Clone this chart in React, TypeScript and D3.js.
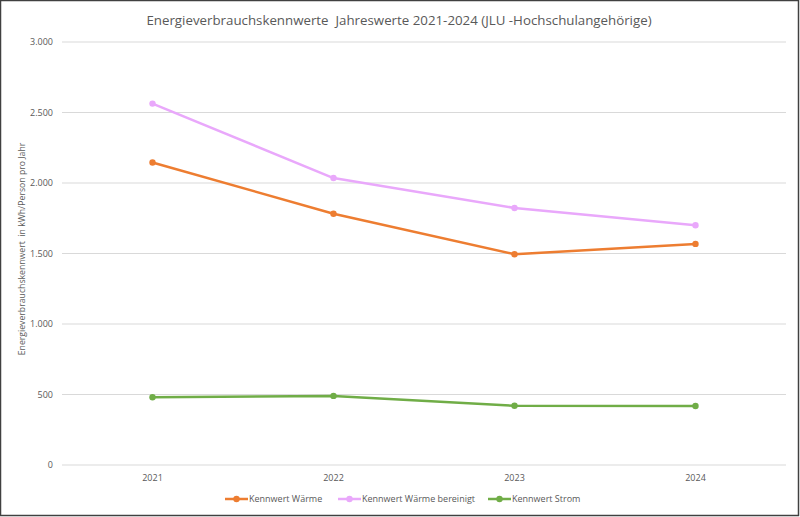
import * as d3 from "d3";
import { useEffect, useRef } from "react";

const years = ["2021", "2022", "2023", "2024"];
const waerme = [2145, 1782, 1495, 1568];
const waermeBereinigt = [2563, 2035, 1823, 1700];
const strom = [480, 490, 420, 418];
const yTicks = [0, 500, 1000, 1500, 2000, 2500, 3000];

const seriesNames = ["Kennwert Wärme", "Kennwert Wärme bereinigt", "Kennwert Strom"];
const seriesColors = ["#ED7D31", "#E9A8FB", "#70AD47"];

export default function App() {
  const ref = useRef<SVGSVGElement | null>(null);

  useEffect(() => {
    const el = ref.current;
    if (!el) return;
    const svg = d3.select(el);
    svg.selectAll("*").remove();

    const W = 800;
    const H = 517;
    const font = "'Open Sans', 'Noto Sans', sans-serif";
    const textCol = "#595959";

    svg.append("rect")
      .attr("x", 0.5).attr("y", 0.5)
      .attr("width", W - 2).attr("height", H - 2)
      .attr("fill", "#fff")
      .attr("stroke", "#404040")
      .attr("stroke-width", 1.5);

    const x = d3.scaleBand().domain(years).range([62, 786]);
    const y = d3.scaleLinear().domain([0, 3000]).range([465, 42]);
    const fmt = (v: number) => d3.format(",")(v).replace(/,/g, ".");

    // grid
    const grid = svg.append("g");
    grid.selectAll("line")
      .data(yTicks)
      .join("line")
      .attr("x1", 62).attr("x2", 786)
      .attr("y1", (d) => y(d)).attr("y2", (d) => y(d))
      .attr("stroke", "#d9d9d9").attr("stroke-width", 1);
    grid.selectAll("text")
      .data(yTicks)
      .join("text")
      .attr("x", 53).attr("y", (d) => y(d) + 3)
      .attr("text-anchor", "end")
      .attr("font-family", font).attr("font-size", 9)
      .attr("fill", textCol)
      .text((d) => fmt(d));

    svg.append("g").selectAll("text")
      .data(years)
      .join("text")
      .attr("x", (d) => x(d)! + x.bandwidth() / 2)
      .attr("y", 481)
      .attr("text-anchor", "middle")
      .attr("font-family", font).attr("font-size", 9)
      .attr("fill", textCol)
      .text((d) => d);

    // title and axis label
    svg.append("text")
      .attr("x", 399).attr("y", 25)
      .attr("text-anchor", "middle")
      .attr("font-family", font).attr("font-size", 13.3)
      .attr("fill", textCol)
      .style("white-space", "pre")
      .text("Energieverbrauchskennwerte  Jahreswerte 2021-2024 (JLU -Hochschulangehörige)");
    svg.append("text")
      .attr("transform", "translate(25,249) rotate(-90)")
      .attr("text-anchor", "middle")
      .attr("font-family", font).attr("font-size", 8.7)
      .attr("fill", textCol)
      .style("white-space", "pre")
      .text("Energieverbrauchskennwert  in kWh/Person pro Jahr");

    const all = [waerme, waermeBereinigt, strom];
    const cx = (i: number) => x(years[i])! + x.bandwidth() / 2;
    const line = d3.line<number>().x((_, i) => cx(i)).y((d) => y(d));

    all.forEach((vals, s) => {
      const g = svg.append("g");
      g.append("path")
        .datum(vals)
        .attr("fill", "none")
        .attr("stroke", seriesColors[s])
        .attr("stroke-width", 2.5)
        .attr("stroke-linejoin", "round")
        .attr("d", line);
      g.selectAll("circle")
        .data(vals)
        .join("circle")
        .attr("cx", (_, i) => cx(i))
        .attr("cy", (d) => y(d))
        .attr("r", 3.2)
        .attr("fill", seriesColors[s]);
    });

    // legend
    const legendX = [225, 338, 488];
    const leg = svg.append("g");
    seriesNames.forEach((name, s) => {
      const lx = legendX[s];
      leg.append("line")
        .attr("x1", lx).attr("x2", lx + 23)
        .attr("y1", 499).attr("y2", 499)
        .attr("stroke", seriesColors[s]).attr("stroke-width", 2.5);
      leg.append("circle")
        .attr("cx", lx + 11.5).attr("cy", 499).attr("r", 3.2)
        .attr("fill", seriesColors[s]);
      leg.append("text")
        .attr("x", lx + 24).attr("y", 502)
        .attr("font-family", font).attr("font-size", 9)
        .attr("fill", textCol)
        .text(name);
    });
  }, []);

  return (
    <svg
      ref={ref}
      width={800}
      height={517}
      style={{ position: "absolute", left: 0, top: 0, display: "block" }}
    />
  );
}
